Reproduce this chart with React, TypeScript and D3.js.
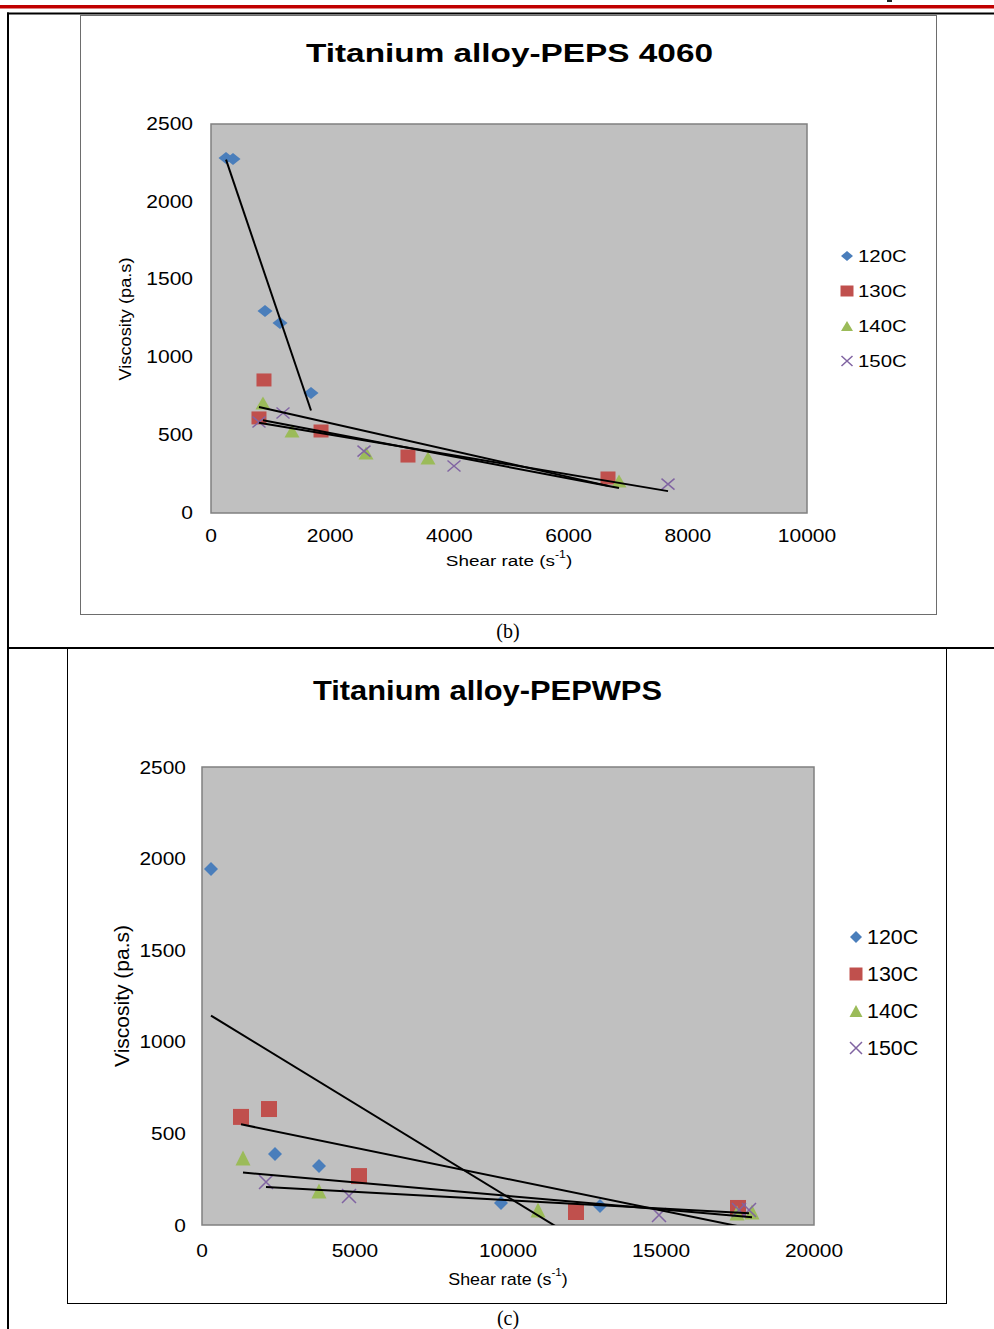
import React from 'react';
import * as d3 from 'd3';

// chart (b) Titanium alloy-PEPS 4060, shear rate (1/s) vs viscosity (pa.s)
const b120x = [252, 369, 906, 1158, 1678];
const b120y = [2281, 2275, 1298, 1221, 771];
const b130x = [889, 805, 1846, 3305, 6661];
const b130y = [855, 611, 527, 366, 225];
const b140x = [872, 1359, 2601, 3641, 6846];
const b140y = [707, 527, 386, 353, 206];
const b150x = [1208, 805, 2567, 4077, 7668];
const b150y = [643, 585, 398, 302, 186];

// chart (c) Titanium alloy-PEPWPS
const c120x = [294, 2386, 3824, 9771, 13007];
const c120y = [1943, 388, 322, 120, 104];
const c130x = [1275, 2190, 5131, 12222, 17516];
const c130y = [590, 633, 267, 71, 93];
const c140x = [1340, 3824, 10980, 17484, 17974];
const c140y = [366, 186, 82, 66, 71];
const c150x = [2092, 4804, 14935, 17549, 17876];
const c150y = [235, 158, 55, 82, 82];

const seriesNames = ['120C', '130C', '140C', '150C'];
const seriesColors = ['#4a7ebb', '#c0504d', '#9bbb59', '#8064a2'];
const seriesShapes = ['diamond', 'square', 'triangle', 'x'];

const FONT = '"Liberation Sans", Arial, sans-serif';

const markerPath = (shape, w, h) => {
  const a = w / 2, b = h / 2;
  if (shape === 'diamond') return `M0,${-b}L${a},0L0,${b}L${-a},0Z`;
  if (shape === 'square') return `M${-a},${-b}H${a}V${b}H${-a}Z`;
  if (shape === 'triangle') return `M0,${-b}L${a},${b}L${-a},${b}Z`;
  return `M${-a},${-b}L${a},${b}M${-a},${b}L${a},${-b}`;
};

const Marker = ({ shape, color, x, y, w, h }) =>
  shape === 'x'
    ? <path d={markerPath(shape, w, h)} transform={`translate(${x},${y})`} fill="none" stroke={color} strokeWidth={1.5} />
    : <path d={markerPath(shape, w, h)} transform={`translate(${x},${y})`} fill={color} />;

// excel style linear trendline
const fit = (xs, ys) => {
  const mx = d3.mean(xs), my = d3.mean(ys);
  const sxy = d3.sum(xs, (x, i) => (x - mx) * (ys[i] - my));
  const sxx = d3.sum(xs, (x) => (x - mx) * (x - mx));
  const k = sxy / sxx;
  return (x) => my + k * (x - mx);
};

const Txt = ({ x, y, size, sx = 1, anchor = 'start', weight = 'normal', children, rotate = 0 }) => (
  <text
    transform={`translate(${x},${y}) rotate(${rotate}) scale(${sx},1)`}
    fontFamily={FONT}
    fontSize={size}
    fontWeight={weight}
    textAnchor={anchor}
    dominantBaseline="central"
    fill="#000"
  >
    {children}
  </text>
);

const Chart = (props) => {
  const { id, frame, plot, xMax, series, title, titleX, titleY, titleSize, titleLen, tick, legend, mk, lmk, xLab, yLab, frameColor } = props;
  const x = d3.scaleLinear().domain([0, xMax]).range([plot.l, plot.r]);
  const y = d3.scaleLinear().domain([0, 2500]).range([plot.b, plot.t]);
  const line = d3.line().x((d) => x(d[0])).y((d) => y(d[1]));

  return (
    <g>
      <rect x={frame.x + 0.5} y={frame.y + 0.5} width={frame.w} height={frame.h} fill="#fff" stroke={frameColor} strokeWidth={1} />
      <text x={titleX} y={titleY} fontFamily={FONT} fontSize={titleSize} fontWeight="bold" textAnchor="middle"
        dominantBaseline="central" textLength={titleLen} lengthAdjust="spacingAndGlyphs">{title}</text>

      <rect x={plot.l} y={plot.t} width={plot.r - plot.l} height={plot.b - plot.t} fill="#c0c0c0" stroke="#808080" strokeWidth={1.5} />
      <clipPath id={id}>
        <rect x={plot.l} y={plot.t} width={plot.r - plot.l} height={plot.b - plot.t} />
      </clipPath>

      {y.ticks(5).map((t) => (
        <Txt key={'y' + t} x={plot.l - tick.gapY} y={y(t)} size={tick.size} sx={tick.sx} anchor="end">{t}</Txt>
      ))}
      {x.ticks(5).map((t) => (
        <Txt key={'x' + t} x={x(t)} y={plot.b + tick.gapX} size={tick.size} sx={tick.sx} anchor="middle">{t}</Txt>
      ))}

      <text transform={`translate(${xLab.x},${xLab.y}) scale(${xLab.sx},1)`} fontFamily={FONT} fontSize={xLab.size}
        textAnchor="middle" dominantBaseline="central">
        Shear rate (s<tspan fontSize={xLab.size * 0.65} dy={-xLab.size * 0.4}>-1</tspan>
        <tspan dy={xLab.size * 0.4}>)</tspan>
      </text>
      <Txt x={yLab.x} y={yLab.y} size={yLab.size} sx={yLab.sx} anchor="middle" rotate={-90}>Viscosity (pa.s)</Txt>

      {series.map((s, i) => (
        <g key={'s' + i}>
          {s.xs.map((v, j) => (
            <Marker key={j} shape={seriesShapes[i]} color={seriesColors[i]} x={x(v)} y={y(s.ys[j])} w={mk[i][0]} h={mk[i][1]} />
          ))}
        </g>
      ))}
      <g clipPath={`url(#${id})`}>
        {series.map((s, i) => {
          const f = fit(s.xs, s.ys);
          const [x0, x1] = d3.extent(s.xs);
          return <path key={'t' + i} d={line([[x0, f(x0)], [x1, f(x1)]])} fill="none" stroke="#000" strokeWidth={2} />;
        })}
      </g>

      {seriesNames.map((n, i) => (
        <g key={'l' + i}>
          <Marker shape={seriesShapes[i]} color={seriesColors[i]} x={legend.mx} y={legend.y + i * legend.dy} w={lmk[i][0]} h={lmk[i][1]} />
          <Txt x={legend.tx} y={legend.y + i * legend.dy} size={legend.size} sx={legend.sx}>{n}</Txt>
        </g>
      ))}
    </g>
  );
};

export default function App() {
  const W = 994, H = 1329;
  const bSeries = [
    { xs: b120x, ys: b120y },
    { xs: b130x, ys: b130y },
    { xs: b140x, ys: b140y },
    { xs: b150x, ys: b150y },
  ];
  const cSeries = [
    { xs: c120x, ys: c120y },
    { xs: c130x, ys: c130y },
    { xs: c140x, ys: c140y },
    { xs: c150x, ys: c150y },
  ];
  return (
    <svg width={W} height={H} style={{ position: 'absolute', left: 0, top: 0, display: 'block' }}>
      <rect width={W} height={H} fill="#fff" />
      {/* page header rule and table borders */}
      <rect x={0} y={5} width={W} height={3.5} fill="#c00000" />
      <rect x={887} y={0} width={5} height={2} fill="#222" />
      <rect x={7} y={12.5} width={W - 7} height={2} fill="#000" />
      <rect x={7} y={12.5} width={2} height={H} fill="#000" />
      <rect x={7} y={647} width={W - 7} height={2} fill="#000" />

      <Chart
        id="clipb"
        frame={{ x: 80, y: 15, w: 856, h: 599 }}
        frameColor="#6d6d6d"
        plot={{ l: 211, t: 124, r: 807, b: 513 }}
        xMax={10000}
        series={bSeries}
        title="Titanium alloy-PEPS 4060"
        titleX={509.5}
        titleY={53}
        titleSize={25.5}
        titleLen={407}
        tick={{ size: 17.5, sx: 1.2, gapY: 18, gapX: 23 }}
        xLab={{ x: 509, y: 561, size: 15.5, sx: 1.22 }}
        yLab={{ x: 125, y: 319, size: 17, sx: 1.07 }}
        legend={{ mx: 847, tx: 858, y: 256, dy: 35, size: 17, sx: 1.2 }}
        mk={[[15, 12], [15, 13], [15, 13], [13, 11]]}
        lmk={[[12, 10], [13, 11], [12, 10], [11, 10]]}
      />
      <text x={508} y={631} fontFamily='"Liberation Serif", "Times New Roman", serif' fontSize={20} textAnchor="middle" dominantBaseline="central">(b)</text>

      <Chart
        id="clipc"
        frame={{ x: 67, y: 648, w: 879, h: 655 }}
        frameColor="#000"
        plot={{ l: 202, t: 767, r: 814, b: 1225 }}
        xMax={20000}
        series={cSeries}
        title="Titanium alloy-PEPWPS"
        titleX={487.5}
        titleY={690}
        titleSize={28}
        titleLen={349}
        tick={{ size: 19, sx: 1.1, gapY: 16, gapX: 25 }}
        xLab={{ x: 508, y: 1279, size: 17, sx: 1.05 }}
        yLab={{ x: 122, y: 996, size: 20, sx: 1.05 }}
        legend={{ mx: 856, tx: 867, y: 937, dy: 37, size: 19.5, sx: 1.1 }}
        mk={[[14, 14], [16, 16], [15, 15], [14, 14]]}
        lmk={[[12, 12], [13, 13], [13, 12], [12, 12]]}
      />
      <text x={508} y={1318} fontFamily='"Liberation Serif", "Times New Roman", serif' fontSize={20} textAnchor="middle" dominantBaseline="central">(c)</text>
    </svg>
  );
}
